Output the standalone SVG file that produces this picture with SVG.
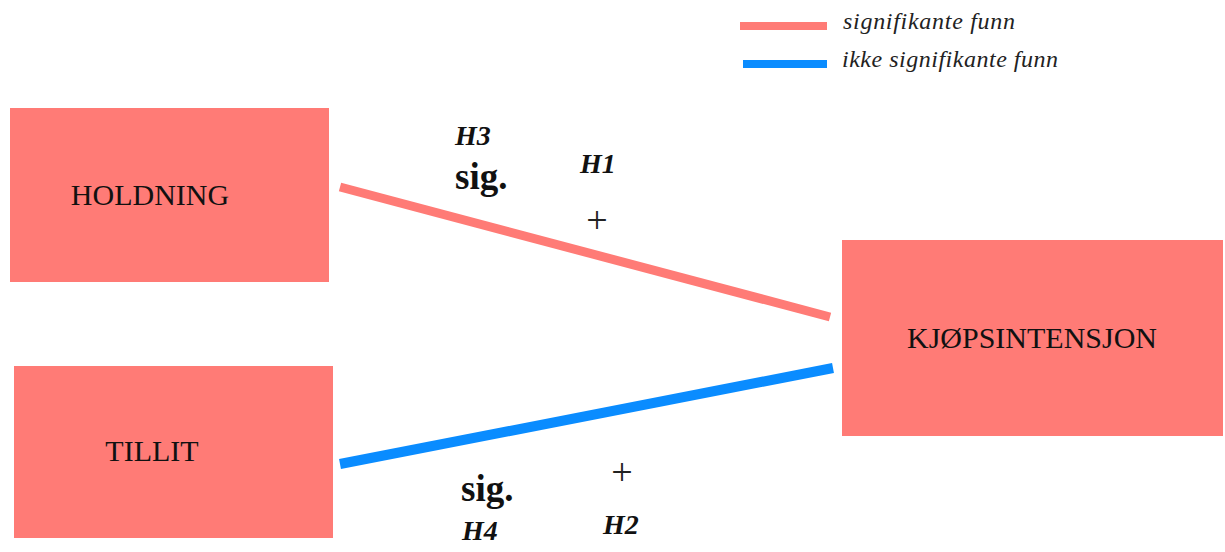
<svg xmlns="http://www.w3.org/2000/svg" width="1225" height="552" viewBox="0 0 1225 552">
<style>
.box{fill:#FF7B76}
.lbl{font-family:"Liberation Serif",serif;font-size:30px;fill:#111;text-anchor:middle}
.h{font-family:"Liberation Serif",serif;font-size:28px;font-weight:bold;font-style:italic;fill:#111}
.sig{font-family:"Liberation Serif",serif;font-size:37px;font-weight:bold;fill:#111}
.plus{font-family:"Liberation Serif",serif;font-size:38px;fill:#222;text-anchor:middle}
.leg{font-family:"Liberation Serif",serif;font-size:24px;font-style:italic;fill:#222}
.sigline{stroke:#FF7B76;fill:none}
.nsline{stroke:#0A8CFF;fill:none}
</style>
<rect width="1225" height="552" fill="#fff"/>
<g id="legend">
<line class="sigline" x1="740" y1="26" x2="827" y2="26" stroke-width="8"/>
<text class="leg" x="843" y="29" textLength="172">signifikante funn</text>
<line class="nsline" x1="743" y1="64" x2="827" y2="64" stroke-width="8"/>
<text class="leg" x="842" y="67" textLength="216">ikke signifikante funn</text>
</g>
<g id="connectors">
<line class="sigline" x1="340" y1="187" x2="830" y2="317" stroke-width="9"/>
<line class="nsline" x1="340" y1="464" x2="833" y2="368" stroke-width="10"/>
</g>
<g id="node-holdning">
<rect class="box" x="10" y="108" width="319" height="174"/>
<text class="lbl" x="150" y="205">HOLDNING</text>
</g>
<g id="node-tillit">
<rect class="box" x="14" y="366" width="319" height="172"/>
<text class="lbl" x="152" y="461">TILLIT</text>
</g>
<g id="node-kjop">
<rect class="box" x="842" y="240" width="381" height="196"/>
<text class="lbl" x="1032" y="348">KJØPSINTENSJON</text>
</g>
<g id="labels">
<text class="h" x="455" y="145">H3</text>
<text class="sig" x="455" y="189">sig.</text>
<text class="h" x="580" y="173">H1</text>
<text class="plus" x="597" y="233">+</text>
<text class="plus" x="622" y="485">+</text>
<text class="sig" x="461" y="501">sig.</text>
<text class="h" x="462" y="540">H4</text>
<text class="h" x="603" y="534">H2</text>
</g>
</svg>
